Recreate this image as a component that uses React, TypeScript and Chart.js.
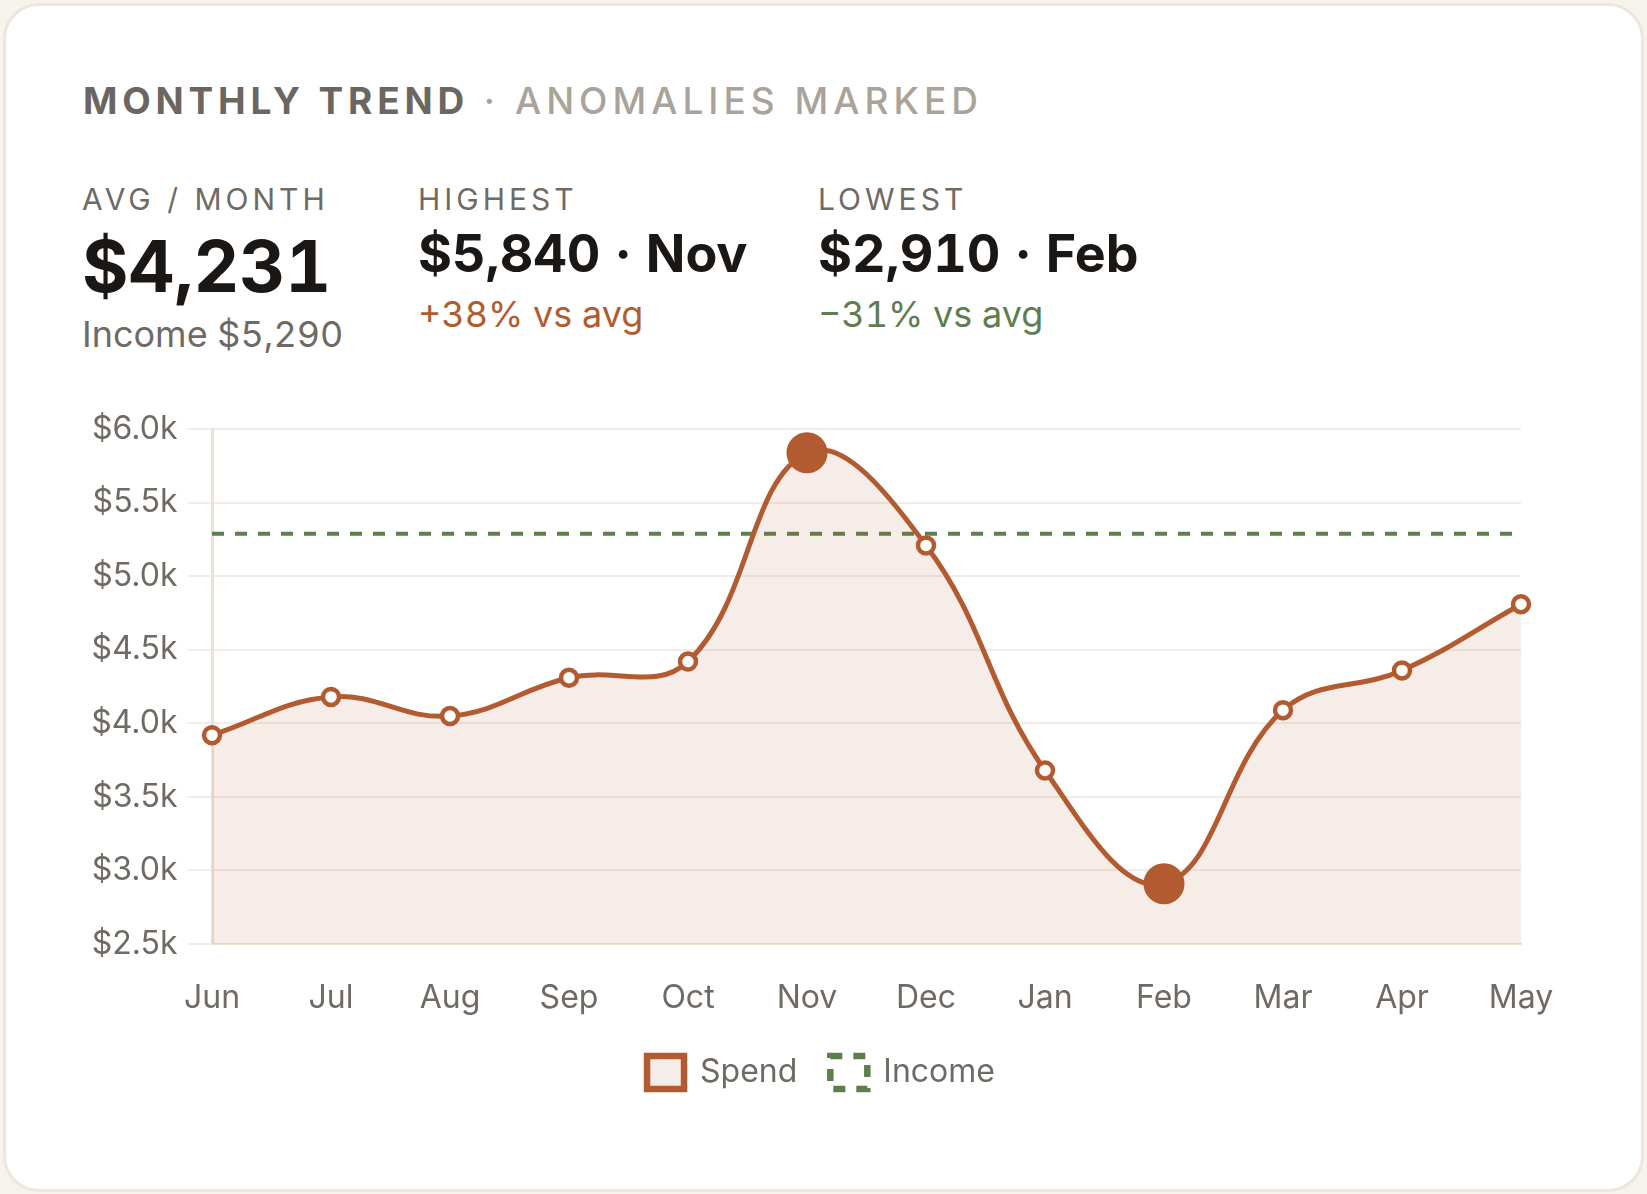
import React, { useEffect, useRef } from 'react';
import { Chart, registerables } from 'chart.js';

Chart.register(...registerables);

// ---------- data ----------
const MONTHS = ['Jun', 'Jul', 'Aug', 'Sep', 'Oct', 'Nov', 'Dec', 'Jan', 'Feb', 'Mar', 'Apr', 'May'];
const SPEND = [3920, 4180, 4050, 4310, 4420, 5840, 5210, 3680, 2910, 4090, 4360, 4810];
const INCOME = 5290;
const INCOME_SERIES = MONTHS.map(() => INCOME);
const Y_MIN = 2500;
const Y_MAX = 6000;
const Y_STEP = 500;

const TITLE_MAIN = 'MONTHLY TREND';
const TITLE_SUB = ' · ANOMALIES MARKED';
const STAT_LABELS = ['AVG / MONTH', 'HIGHEST', 'LOWEST'];
const STAT_VALUES = ['$4,231', '$5,840 · Nov', '$2,910 · Feb'];
const STAT_NOTES = ['Income $5,290', '+38% vs avg', '−31% vs avg'];

// ---------- styles ----------
const FONT = 'Inter, "Liberation Sans", Arial, sans-serif';
const BROWN = '#b35b30';
const FILL = 'rgba(179, 91, 48, 0.11)';
const GREEN = '#5f7e50';
const TICK = '#6f6a63';
const GRID = '#f2ede6';
const AXIS = '#ebe2d6';

const abs = (left: number, top: number, extra: React.CSSProperties): React.CSSProperties => ({
  position: 'absolute',
  left,
  top,
  lineHeight: 1,
  whiteSpace: 'nowrap',
  fontFamily: FONT,
  margin: 0,
  ...extra,
});

export default function App() {
  const ref = useRef<HTMLCanvasElement | null>(null);

  useEffect(() => {
    document.body.style.margin = '0';
    document.body.style.background = '#f6f2ec';
    const hi = SPEND.indexOf(Math.max(...SPEND));
    const lo = SPEND.indexOf(Math.min(...SPEND));
    const isAnom = (i: number) => i === hi || i === lo;

    Chart.defaults.font.family = FONT;

    const chart = new Chart(ref.current as HTMLCanvasElement, {
      type: 'line',
      data: {
        labels: MONTHS,
        datasets: [
          {
            label: 'Spend',
            data: SPEND,
            borderColor: BROWN,
            backgroundColor: FILL,
            borderWidth: 5,
            tension: 0.4,
            fill: 'start',
            clip: false as any,
            pointRadius: SPEND.map((_, i) => (isAnom(i) ? 19.5 : 8)),
            pointBackgroundColor: SPEND.map((_, i) => (isAnom(i) ? BROWN : '#ffffff')),
            pointBorderColor: BROWN,
            pointBorderWidth: SPEND.map((_, i) => (isAnom(i) ? 2 : 4.5)),
          },
          {
            label: 'Income',
            data: INCOME_SERIES,
            borderColor: GREEN,
            backgroundColor: 'rgba(255,255,255,0)',
            borderWidth: 4,
            borderDash: [12, 11],
            pointRadius: 0,
            fill: false,
            tension: 0,
          },
        ],
      },
      options: {
        animation: false,
        responsive: false,
        devicePixelRatio: 1,
        layout: { padding: { left: 47, right: 35, top: 27, bottom: 10 } },
        plugins: {
          tooltip: { enabled: false },
          legend: {
            position: 'bottom',
            labels: {
              font: { size: 32, family: FONT },
              color: TICK,
              boxWidth: 37,
              boxHeight: 33,
              padding: 33,
              generateLabels: (c: any) => {
                const items = Chart.defaults.plugins.legend.labels.generateLabels(c);
                return items.map((it: any) => ({ ...it, lineWidth: 6.5, fontColor: TICK }));
              },
            },
          },
        },
        scales: {
          x: {
            grid: { display: false, drawTicks: false },
            border: { display: true, color: AXIS, width: 2 },
            ticks: { padding: 35, color: TICK, font: { size: 32, family: FONT }, maxRotation: 0, autoSkip: false },
            afterFit: (s: any) => {
              s.height = 79;
            },
          },
          y: {
            min: Y_MIN,
            max: Y_MAX,
            ticks: {
              stepSize: Y_STEP,
              padding: 10,
              color: TICK,
              font: { size: 32, family: FONT },
              callback: (v: any) => '$' + (Number(v) / 1000).toFixed(1) + 'k',
            },
            grid: { color: GRID, lineWidth: 2, tickLength: 24.5, tickColor: GRID },
            border: { display: true, color: AXIS, width: 3 },
            afterFit: (s: any) => {
              s.width = 125;
            },
          },
          // invisible spacer on the right so the legend centres like the reference
          spacer: {
            type: 'linear',
            position: 'right',
            display: true,
            grid: { display: false, drawTicks: false },
            border: { display: false },
            ticks: { display: false },
            afterFit: (s: any) => {
              s.width = 34;
            },
          },
        },
      },
    });
    return () => chart.destroy();
  }, []);

  const cols = [82, 418, 818];
  const num: React.CSSProperties = { fontFeatureSettings: '"tnum"' };

  return (
    <div style={{ position: 'relative', width: 1647, height: 1194, background: '#f6f2ec', overflow: 'hidden' }}>
      <div
        style={{
          position: 'absolute',
          left: 3,
          top: 3,
          width: 1641,
          height: 1189,
          boxSizing: 'border-box',
          background: '#ffffff',
          border: '3px solid #ede6db',
          borderRadius: 36,
        }}
      />
      <div style={abs(83, 82, { fontSize: 37, letterSpacing: '0.13em' })}>
        <span style={{ fontWeight: 700, color: '#6b665f' }}>{TITLE_MAIN}</span>
        <span style={{ fontWeight: 500, color: '#a9a39a', letterSpacing: '0.135em' }}>{TITLE_SUB}</span>
      </div>
      {STAT_LABELS.map((t, i) => (
        <div key={'l' + i} style={abs(cols[i], 184, { fontSize: 30, letterSpacing: '4px', color: TICK, fontWeight: 400 })}>
          {t}
        </div>
      ))}
      <div style={abs(82, 231, { fontSize: 71, fontWeight: 700, color: '#1a1714', ...num })}>{STAT_VALUES[0]}</div>
      <div style={abs(cols[1], 227.5, { fontSize: 52, fontWeight: 700, color: '#1a1714', ...num })}>{STAT_VALUES[1]}</div>
      <div style={abs(cols[2], 227.5, { fontSize: 52, fontWeight: 700, color: '#1a1714', ...num })}>{STAT_VALUES[2]}</div>
      <div style={abs(82, 316, { fontSize: 36, color: TICK, ...num })}>{STAT_NOTES[0]}</div>
      <div style={abs(cols[1], 296, { fontSize: 36, color: BROWN, ...num })}>{STAT_NOTES[1]}</div>
      <div style={abs(cols[2], 296, { fontSize: 36, color: GREEN, ...num })}>{STAT_NOTES[2]}</div>
      <canvas
        ref={ref}
        width={1550}
        height={709}
        style={{ position: 'absolute', left: 40, top: 400, width: 1550, height: 709 }}
      />
    </div>
  );
}
